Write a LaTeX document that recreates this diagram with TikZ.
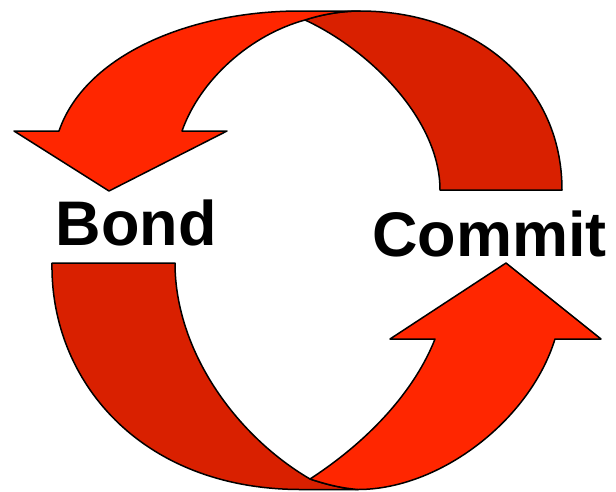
\documentclass[tikz,border=0pt]{standalone}
\usepackage{fontspec}
\setmainfont{Liberation Sans}
\definecolor{bright}{RGB}{255,38,0}
\definecolor{darkred}{RGB}{217,32,0}
\begin{document}
\begin{tikzpicture}[x=1pt,y=-1pt,
  band/.style={draw=black,line width=1.5pt,line join=round},
  lbl/.style={inner sep=0pt,anchor=base west,font=\fontsize{63}{63}\selectfont\bfseries}]
\useasboundingbox (0,0) rectangle (616,491);
% top arrow, back (dark) part
\path[band,fill=darkred] (360,11) .. controls (470,11) and (562,80) .. (562,190)
  -- (440,190)
  .. controls (440,120) and (370,50) .. (305,20)
  .. controls (320,15) and (340,11) .. (360,11) -- cycle;
% top arrow, front (bright) part with head
\path[band,fill=bright] (14,131) -- (59,131)
  .. controls (85,55) and (190,11) .. (300,11) -- (360,11)
  .. controls (340,11) and (320,15) .. (305,20)
  .. controls (250,35) and (200,80) .. (182,131)
  -- (227,131) -- (109,191) -- cycle;
% bottom arrow, back (dark) part
\path[band,fill=darkred] (52,263) -- (175,263)
  .. controls (175,350) and (235,435) .. (310,479)
  .. controls (325,484) and (340,488) .. (358,489.5)
  -- (300,489.5)
  .. controls (140,489) and (50,380) .. (52,263)
  -- cycle;
% bottom arrow, front (bright) part with head
\path[band,fill=bright] (310,479)
  .. controls (370,440) and (415,390) .. (435,339)
  -- (390,339) -- (506,263) -- (601,339) -- (555,339)
  .. controls (530,420) and (440,489.5) .. (358,489.5)
  .. controls (340,488) and (325,484) .. (310,479) -- cycle;
\node[lbl] (bond) at (55.5,245) {Bond};
\node[lbl] (commit) at (372,256) {Commit};
\end{tikzpicture}
\end{document}
